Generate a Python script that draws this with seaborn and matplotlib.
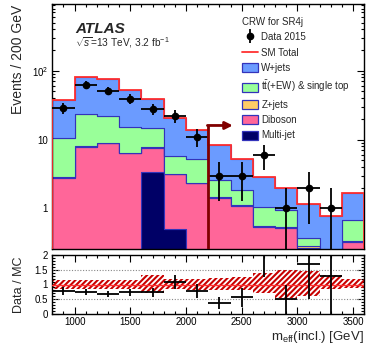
import numpy as np
import pandas as pd
import matplotlib
matplotlib.use("Agg")
import matplotlib.pyplot as plt
import seaborn as sns
from matplotlib.lines import Line2D
from matplotlib.patches import Patch
from matplotlib.ticker import FixedLocator, MultipleLocator, LogLocator, NullFormatter, FuncFormatter

# ---------------- data ----------------
bin_edges = [800, 1000, 1200, 1400, 1600, 1800, 2000, 2200, 2400, 2600, 2800, 3000, 3200, 3400, 3600]
bin_centers = [900, 1100, 1300, 1500, 1700, 1900, 2100, 2300, 2500, 2700, 2900, 3100, 3300, 3500]
data_2015 = [29, 62, 51, 39, 28, 22, 11, 3, 3, 6, 1, 2, 1, 0]

wjets = [26.8, 58.8, 54.0, 37.2, 23.9, 14.65, 8.75, 5.7, 3.43, 1.8, 1.06, 0.80, 0.56, 0.97]
ttbar = [7.8, 15.2, 13.0, 8.9, 6.8, 2.55, 2.8, 1.1, 0.75, 0.5, 0.4, 0.09, 0.1, 0.34]
zjets = [0.1, 0.15, 0.15, 0.1, 0.1, 0.05, 0.05, 0.04, 0.03, 0.02, 0.02, 0.01, 0.01, 0.01]
diboson = [2.78, 7.85, 8.85, 6.3, 4.2, 2.65, 2.31, 1.43, 1.09, 0.53, 0.52, 0.26, 0.1, 0.33]
multijet = [0, 0, 0, 0, 3.4, 0.5, 0, 0, 0, 0, 0, 0.01, 0, 0]

band_lo = [0.85, 0.85, 0.85, 0.84, 0.72, 0.84, 0.83, 0.80, 0.80, 0.70, 0.55, 0.62, 0.86, 0.87]
band_hi = [1.14, 1.15, 1.15, 1.16, 1.32, 1.17, 1.18, 1.22, 1.24, 1.40, 1.48, 1.47, 1.32, 1.17]

process_names = ["W+jets", "t$\\bar{\\rm t}$(+EW) & single top", "Z+jets", "Diboson", "Multi-jet"]
process_values = [wjets, ttbar, zjets, diboson, multijet]
process_colors = ["#6b9bff", "#99ff99", "#ffcc66", "#ff6699", "#000066"]

cut_value = 2200
arrow_end = 2420
arrow_y = 16.0

# ---------------- style ----------------
sns.set_style("ticks")
plt.rcParams["font.family"] = ["Liberation Sans", "DejaVu Sans"]
plt.rcParams["mathtext.fontset"] = "custom"
plt.rcParams["mathtext.rm"] = "Liberation Sans"
plt.rcParams["mathtext.it"] = "Liberation Sans:italic"
plt.rcParams["mathtext.bf"] = "Liberation Sans:bold"
plt.rcParams["hatch.linewidth"] = 1.5
plt.rcParams["hatch.color"] = "#c80000"

W, H = 374, 346
fig = plt.figure(figsize=(W / 100, H / 100), dpi=100)
L, R = 52.3, 364.3
ax = fig.add_axes([L / W, 1 - 249 / H, (R - L) / W, 245 / H])
ax2 = fig.add_axes([L / W, 1 - 314 / H, (R - L) / W, 59 / H])

# stacked MC via seaborn
rows = []
for name, vals in zip(process_names, process_values):
    for c, v in zip(bin_centers, vals):
        rows.append({"m": c, "w": v, "process": name})
df = pd.DataFrame(rows)
palette = dict(zip(process_names, process_colors))
sns.histplot(data=df, x="m", weights="w", hue="process", hue_order=process_names,
             palette=palette, multiple="stack", bins=bin_edges, element="step",
             fill=True, alpha=1.0, linewidth=0.8, edgecolor="#3333bb", legend=False, ax=ax)

total = np.sum(np.array(process_values), axis=0)
ax.stairs(total, bin_edges, color="#ff3030", lw=1.3, zorder=5)

data_arr = np.array(data_2015, dtype=float)
centers = np.array(bin_centers, dtype=float)
mask = data_arr > 0
ax.errorbar(centers[mask], data_arr[mask], xerr=100, yerr=np.sqrt(data_arr[mask]),
            fmt="o", color="k", ms=4.5, lw=1.3, capsize=0, zorder=8)

ymin, ymax = 0.257, 930
ax.set_yscale("log")
ax.set_xlim(800, 3600)
ax.set_ylim(ymin, ymax)

# cut arrow
ax.plot([cut_value, cut_value], [ymin, arrow_y], color="#800000", lw=2, zorder=9, solid_capstyle="butt")
ax.annotate("", xy=(arrow_end, arrow_y), xytext=(cut_value - 8, arrow_y),
            arrowprops=dict(arrowstyle="-|>", color="#800000", lw=2, mutation_scale=11,
                            shrinkA=0, shrinkB=0), zorder=9)

# axes formatting main
ax.set_xlabel("")
ax.set_ylabel("Events / 200 GeV", fontsize=10, loc="top")
ax.yaxis.set_label_coords((25 - L) / (R - L), 0.996)
ax.xaxis.set_major_locator(MultipleLocator(500))
ax.xaxis.set_minor_locator(MultipleLocator(100))
ax.set_xticklabels([])
ax.yaxis.set_major_locator(FixedLocator([1, 10, 100]))
ax.yaxis.set_minor_locator(LogLocator(base=10, subs=np.arange(2, 10)))
ax.yaxis.set_minor_formatter(NullFormatter())
ax.yaxis.set_major_formatter(FuncFormatter(lambda v, p: {1: "1", 10: "10", 100: "10$^{2}$"}.get(int(round(v)), "")))
for a in (ax, ax2):
    a.tick_params(which="both", direction="in", top=True, right=True, colors="k", labelsize=7)
    a.tick_params(which="major", length=5, width=0.8, pad=3)
    a.tick_params(which="minor", length=2.5, width=0.8)
    for s in a.spines.values():
        s.set_linewidth(1.0)
        s.set_color("k")

# legend
handles = [(Line2D([], [], marker="|", ms=10, mew=1.3, color="k", ls=""),
            Line2D([], [], marker="o", ms=4.5, color="k", ls="")),
           Line2D([], [], color="#ff3030", lw=1.3)]
handles += [Patch(facecolor=c, edgecolor="#3333bb", lw=0.9) for c in process_colors]
labels = ["Data 2015", "SM Total"] + process_names
leg = ax.legend(handles, labels, title="CRW for SR4j", loc="upper left",
                bbox_to_anchor=((242 - L) / (R - L), (249 - 17) / 245), frameon=False,
                fontsize=7, title_fontsize=7, handlelength=1.65, handleheight=1.05,
                handletextpad=0.35, labelspacing=0.55, borderpad=0, borderaxespad=0,
                alignment="left")

fig.text(75 / W, 1 - 33 / H, "ATLAS", fontsize=11, fontweight="bold", fontstyle="italic", va="baseline")
fig.text(75 / W, 1 - 47 / H, "$\\sqrt{s}$=13 TeV, 3.2 fb$^{-1}$", fontsize=7.3, va="baseline")

# ratio panel
ratio = data_arr[mask] / total[mask]
ratio_err = np.sqrt(data_arr[mask]) / total[mask]
lo_ext = list(band_lo) + [band_lo[-1]]
hi_ext = list(band_hi) + [band_hi[-1]]
ax2.fill_between(bin_edges, lo_ext, hi_ext, step="post", facecolor="none",
                 edgecolor="#c80000", hatch="//////", linewidth=0, zorder=2)
ax2.axhline(1.0, color="#ff3030", lw=1.0, zorder=3)
for g in (0.5, 1.5):
    ax2.axhline(g, color="#888888", lw=0.8, ls=(0, (1, 1.5)), zorder=1)
ax2.errorbar(centers[mask], ratio, xerr=100, yerr=ratio_err, fmt="none",
             ecolor="k", lw=1.3, capsize=0, zorder=6)
ax2.set_xlim(800, 3600)
ax2.set_ylim(0, 2)
ax2.xaxis.set_major_locator(MultipleLocator(500))
ax2.xaxis.set_minor_locator(MultipleLocator(100))
ax2.yaxis.set_major_locator(MultipleLocator(0.5))
ax2.yaxis.set_minor_locator(MultipleLocator(0.1))
ax2.yaxis.set_major_formatter(FuncFormatter(lambda v, p: "%g" % v))
ax2.tick_params(axis="x", which="major", pad=2)
ax2.set_ylabel("Data / MC", fontsize=9)
ax2.yaxis.set_label_coords((25 - L) / (R - L), 0.5)
ax2.set_xlabel("m$_{\\rm eff}$(incl.) [GeV]", fontsize=9.5, loc="right")
ax2.xaxis.set_label_coords(1.0, -(329 - 314) / 59)
ax2.xaxis.label.set_va("top")

fig.savefig("out.png", dpi=100)
